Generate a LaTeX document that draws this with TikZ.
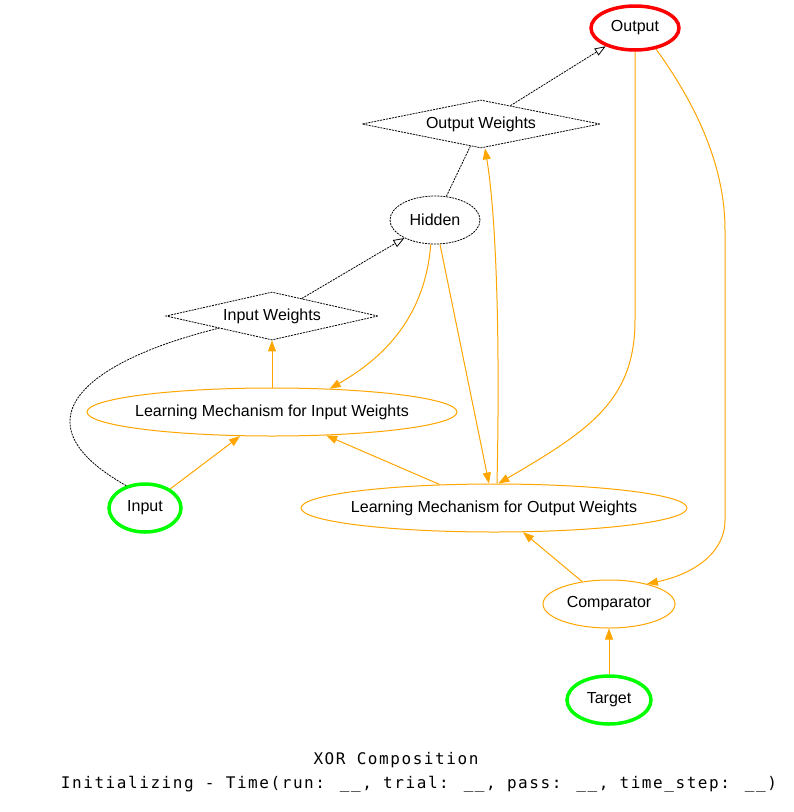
\documentclass[tikz,border=0pt]{standalone}
\usepackage{fontspec}
\setmainfont{Liberation Sans}
\newfontfamily\monof[LetterSpace=9.8]{DejaVu Sans Mono}
\usetikzlibrary{shapes.geometric,arrows.meta}
\definecolor{gvorange}{HTML}{FFA500}
\definecolor{gvgreen}{HTML}{00FF00}
\definecolor{gvred}{HTML}{FF0000}
\begin{document}
\begin{tikzpicture}[x=1pt,y=-1pt,
  every node/.style={font=\fontsize{16}{18}\selectfont, inner sep=0pt},
  ell/.style={ellipse, draw},
  dia/.style={diamond, draw, shape aspect=5, line width=0.8pt, dash pattern=on 2pt off 1pt},
  onode/.style={ell, draw=gvorange, line width=1pt, inner xsep=-20pt},
  gnode/.style={ell, draw=gvgreen, line width=3.5pt},
  dnode/.style={ell, draw=black, line width=0.8pt, dash pattern=on 2pt off 1pt},
  oedge/.style={draw=gvorange, line width=1pt, -{Triangle[length=11pt,width=8pt]}},
  dedge/.style={draw=black, line width=0.8pt, dash pattern=on 2pt off 1pt},
  openarr/.style={-{Triangle[open,length=11pt,width=8pt]}},
  titlefont/.style={font=\monof\fontsize{16}{18}\selectfont}
]
\useasboundingbox (0,0) rectangle (794,812);

\node[ell, draw=gvred, line width=3.5pt, minimum width=88pt, minimum height=44pt] (out) at (635,28) {Output};
\node[dia, minimum width=238pt, minimum height=48pt] (ow) at (481,124) {Output Weights};
\node[dnode, minimum width=90pt, minimum height=48pt] (hid) at (435,220) {Hidden};
\node[dia, minimum width=212pt, minimum height=48pt] (iw) at (272,316) {Input Weights};
\node[onode, minimum width=370pt, minimum height=48pt] (lmi) at (272,412) {Learning Mechanism for Input Weights};
\node[gnode, minimum width=72pt, minimum height=48pt] (in) at (145,508) {Input};
\node[onode, minimum width=386pt, minimum height=48pt] (lmo) at (494,508) {Learning Mechanism for Output Weights};
\node[onode, minimum width=132pt, minimum height=48pt] (comp) at (609,604) {Comparator};
\node[gnode, minimum width=84pt, minimum height=48pt] (tgt) at (609,700) {Target};

\node[titlefont] (t1) at (396,760) {XOR Composition};
\node[titlefont] (t2) at (419,784) {Initializing - Time(run: \_\_, trial: \_\_, pass: \_\_, time\_step: \_\_)};

% dashed projections
\draw[dedge, openarr] (ow) -- (out);
\draw[dedge] (hid) -- (ow);
\draw[dedge, openarr] (iw) -- (hid);
\draw[dedge] (in.130) .. controls (10,420) and (90,360) .. (iw.south west);

% orange learning edges
\draw[oedge] (out.south) -- (635,320) .. controls (635,400) and (590,430) .. (lmo.80);
\draw[oedge] (out.-45) .. controls (700,110) and (725,170) .. (725,230) -- (725,520) .. controls (725,555) and (690,575) .. (comp.28);
\draw[oedge] (hid.-100) .. controls (425,320) and (380,360) .. (lmi.22);
\draw[oedge] (hid) -- (lmo);
\draw[oedge] ([xshift=3pt]lmo.north) .. controls (500,350) and (497,220) .. ([xshift=4pt]ow.south);
\draw[oedge] (lmi) -- (iw);
\draw[oedge] (in) -- (lmi);
\draw[oedge] (lmo) -- (lmi);
\draw[oedge] (comp) -- (lmo);
\draw[oedge] (tgt) -- (comp);
\end{tikzpicture}
\end{document}
